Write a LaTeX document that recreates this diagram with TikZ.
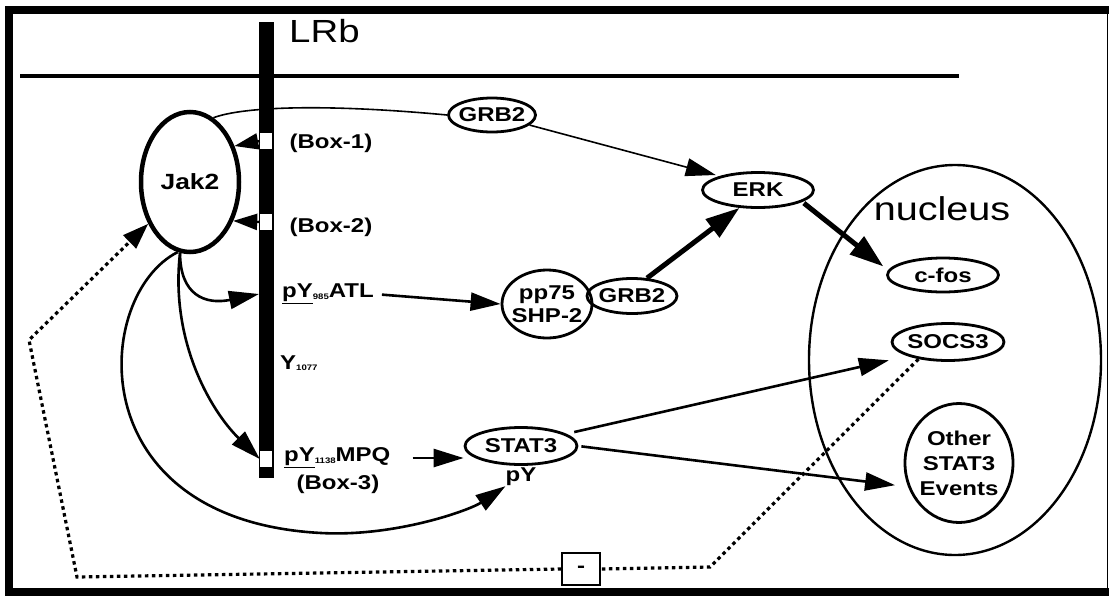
\documentclass[tikz,border=0pt]{standalone}
\usepackage{fontspec}
\setmainfont{Liberation Sans}[FakeStretch=1.2]
\usetikzlibrary{shapes.geometric, arrows.meta, positioning}

\newcommand{\labfont}{\fontsize{20}{23}\selectfont\bfseries}
\newcommand{\lowidx}[1]{\raisebox{-1.5pt}{\fontsize{8}{8}\selectfont #1}}

\begin{document}
\begin{tikzpicture}[x=1pt, y=-1pt,
      mol/.style={ellipse, draw=black, line width=2.8pt, inner sep=-3pt,
                  font=\labfont, align=center},
      site/.style={rectangle, fill=white, minimum width=12pt,
                   minimum height=16pt, inner sep=0pt},
      txt/.style={font=\labfont, inner sep=0pt},
      arr/.style={-{Triangle[length=30pt,width=18pt]}, line width=2.6pt},
      bind/.style={-{Triangle[length=24pt,width=16pt]}, line width=2.4pt},
      big/.style={-{Triangle[length=34pt,width=22pt]}, line width=5pt},
      inh/.style={line width=3.2pt, dash pattern=on 3.5pt off 3.5pt},
    ]
      \useasboundingbox (0,0) rectangle (1109,595);
      \draw[line width=8pt] (1109,10) -- (9,10) -- (9,592) -- (1109,592);
      \draw[line width=1pt] (1107.5,10) -- (1107.5,592);
      \draw[line width=4.5pt] (20,76) -- (959,76);

      \node[fill=black, minimum width=15pt, minimum height=456pt, inner sep=0pt] (lrb) at (266.5,250) {};
      \node[font=\fontsize{32}{32}\selectfont, anchor=west, inner sep=0pt] (lrbtxt) at (289,31) {LRb};
      \node[site] (box1) at (266,141) {};
      \node[site] (box2) at (266,222) {};
      \node[site] (box3) at (266,459) {};
      \coordinate (c985) at (259,294);

      \node[txt] (b1txt) at (331,143) {(Box-1)};
      \node[txt] (b2txt) at (331,227) {(Box-2)};
      \node[txt, anchor=west] (y985) at (282,294) {\underline{pY}\lowidx{985}ATL};
      \node[txt, anchor=west] (y1077) at (280,363) {Y\lowidx{1077}};
      \node[txt, anchor=west] (y1138) at (284,458) {\underline{pY}\lowidx{1138}MPQ};
      \node[txt] (b3txt) at (338,484) {(Box-3)};

      \node[mol, line width=4.5pt, minimum width=98pt, minimum height=140pt,
            font=\fontsize{22}{24}\selectfont\bfseries] (jak) at (190,182) {Jak2};
      \node[mol, minimum width=87pt, minimum height=34pt] (grbA) at (492,115) {GRB2};
      \node[mol, minimum width=111pt, minimum height=35pt] (erk) at (758,190) {ERK};
      \node[mol, minimum width=90pt, minimum height=68pt, inner sep=-4pt] (pp) at (547,304) {pp75\\SHP-2};
      \node[mol, minimum width=90pt, minimum height=35pt] (grbB) at (632,296) {GRB2};
      \node[mol, minimum width=112pt, minimum height=37pt] (stat) at (521,446) {STAT3};
      \node[txt, below=2pt of stat] (statpy) {pY};

      \node[ellipse, draw, line width=2.4pt, minimum width=292pt, minimum height=390pt] (nuc) at (955,360) {};
      \node[font=\fontsize{33}{33}\selectfont, inner sep=0pt] (nuctxt) at (942,209) {nucleus};
      \node[mol, minimum width=111pt, minimum height=34pt] (cfos) at (943,275) {c-fos};
      \node[mol, minimum width=112pt, minimum height=37pt] (socs) at (948,342) {SOCS3};
      \node[mol, minimum width=108pt, minimum height=119pt,
            font=\fontsize{20}{25}\selectfont\bfseries] (other) at (959,463) {Other\\STAT3\\Events};
      \node[draw, line width=1.5pt, minimum width=38pt, minimum height=32pt,
            font=\labfont, inner sep=0pt] (neg) at (581,569) {-};

      \draw[line width=1.6pt] (jak.70) .. controls (245,106) and (330,104) .. (grbA.west);
      \draw[arr, line width=1.6pt, shorten >=4pt] (grbA.-15) -- (erk.160);
      \draw[bind] (box1.west) -- (jak.39);
      \draw[bind] (box2.west) -- (jak.-42);
      \draw[arr] (jak.-98) .. controls (180,295) and (205,305) .. (c985);
      \draw[arr] (jak.-98) .. controls (170,340) and (210,410) .. (box3.west);
      \draw[arr] (jak.-100) .. controls (93,295) and (78,520) .. (321,533)
                 .. controls (396,537) and (470,510) .. (statpy.south west);
      \draw[arr, shorten <=8pt] (y985.east) -- (pp.west);
      \draw[arr, shorten <=22pt] (y1138.east) -- (y1138.east -| stat.west);
      \draw[big] (grbB.50) -- (erk.-136);
      \draw[big, shorten <=2pt, shorten >=6pt] (erk.-15) -- (cfos.175);
      \draw[arr, shorten <=8pt, shorten >=19pt] (stat.15) -- (socs.south west);
      \draw[arr, shorten <=3pt, shorten >=13pt] (stat.east) -- (other.205);
      \draw[inh] (socs.-150) -- (710,567) -- (neg.east);
      \draw[inh, -{Triangle[length=26pt,width=18pt]}] (neg.west) -- (77,577) -- (29,340) -- (jak.-135);
    \end{tikzpicture}
\end{document}
